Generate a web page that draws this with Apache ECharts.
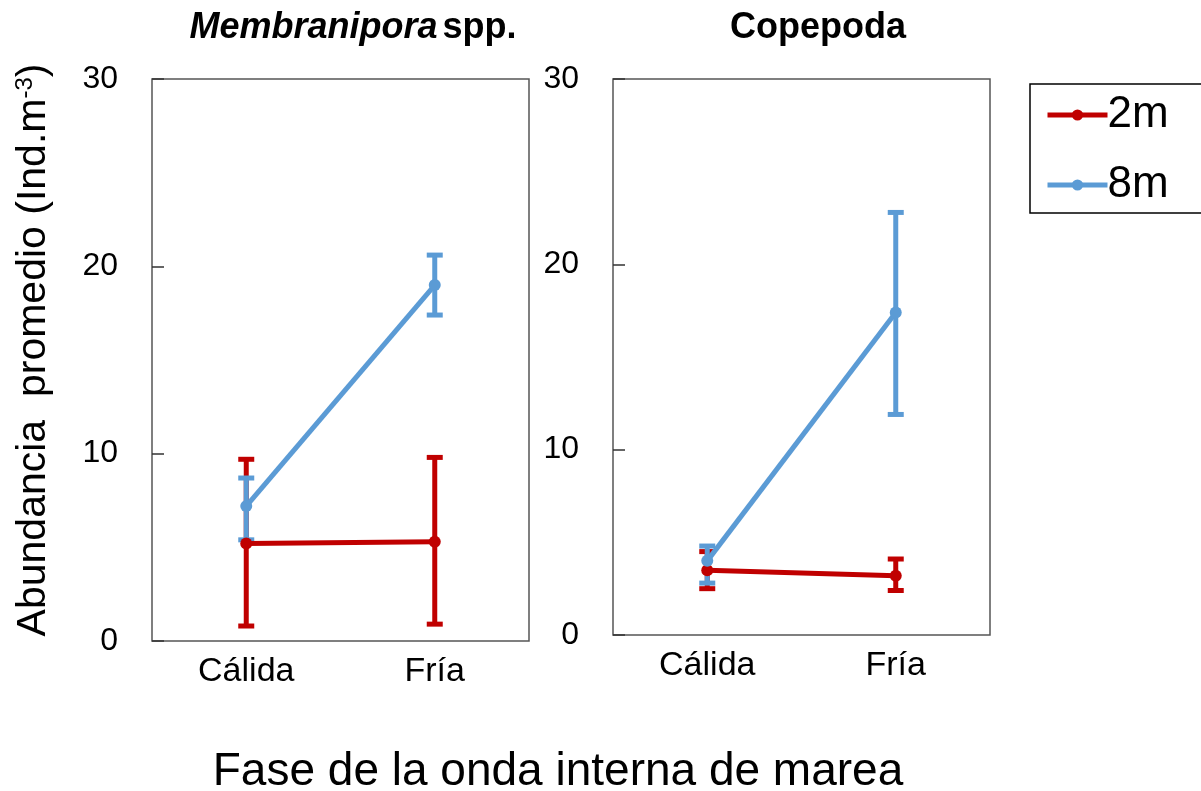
<!DOCTYPE html>
<html><head><meta charset="utf-8">
<script src="https://cdn.jsdelivr.net/npm/echarts@6/dist/echarts.min.js"></script>
<style>html,body{margin:0;padding:0;background:#fff}#c{width:1201px;height:791px}</style>
</head><body><div id="c"></div>
<script>
const categories = ['Cálida', 'Fría'];
const yTicks = [0, 10, 20, 30];
// Membranipora spp.
const memb2m = [5.2, 5.3];
const memb2mLow = [0.8, 0.9];
const memb2mHigh = [9.7, 9.8];
const memb8m = [7.2, 19.0];
const memb8mLow = [5.4, 17.4];
const memb8mHigh = [8.7, 20.6];
// Copepoda
const cope2m = [3.5, 3.2];
const cope2mLow = [2.5, 2.4];
const cope2mHigh = [4.5, 4.1];
const cope8m = [4.0, 17.4];
const cope8mLow = [2.8, 11.9];
const cope8mHigh = [4.8, 22.8];

const RED = '#C00000', BLUE = '#5B9BD5';
const FONT = '"Liberation Sans", Arial, sans-serif';

function errData(lo, hi) { return lo.map((l, i) => [i, l, hi[i]]); }
function errSeries(name, lo, hi, color, idx) {
  return {
    type: 'custom', name: name, xAxisIndex: idx, yAxisIndex: idx, z: 1,
    data: errData(lo, hi),
    renderItem: function (params, api) {
      const x = api.value(0);
      const p1 = api.coord([x, api.value(1)]);
      const p2 = api.coord([x, api.value(2)]);
      const w = 8;
      const st = { stroke: color, lineWidth: 5 };
      return { type: 'group', children: [
        { type: 'line', shape: { x1: p1[0], y1: p1[1], x2: p2[0], y2: p2[1] }, style: st },
        { type: 'line', shape: { x1: p1[0] - w, y1: p1[1], x2: p1[0] + w, y2: p1[1] }, style: st },
        { type: 'line', shape: { x1: p2[0] - w, y1: p2[1], x2: p2[0] + w, y2: p2[1] }, style: st }
      ]};
    }
  };
}
function lineSeries(name, data, color, idx) {
  return { type: 'line', name: name, xAxisIndex: idx, yAxisIndex: idx, data: data, z: 3,
    symbol: 'circle', symbolSize: 12, itemStyle: { color: color },
    lineStyle: { color: color, width: 5 } };
}
function xAx(idx) {
  return { type: 'category', gridIndex: idx, data: categories, boundaryGap: true,
    axisLine: { show: false }, axisTick: { show: false },
    axisLabel: { fontFamily: FONT, fontSize: 34, color: '#000', margin: 14 } };
}
function yAx(idx, withName) {
  const o = { type: 'value', gridIndex: idx, min: yTicks[0], max: yTicks[yTicks.length - 1], interval: 10,
    axisLine: { show: false }, splitLine: { show: false },
    axisTick: { show: true, inside: true, length: 12, lineStyle: { color: '#333', width: 1.5 } },
    axisLabel: { fontFamily: FONT, fontSize: 32, color: '#000', margin: 34 } };
  if (withName) {
    o.name = 'Abundancia  promedio (Ind.m{sup|-3})';
    o.nameLocation = 'middle';
    o.nameGap = 98;
    o.nameTextStyle = { fontFamily: FONT, fontSize: 41, color: '#000', padding: [0, 0, 0, 20],
      rich: { sup: { fontFamily: FONT, fontSize: 24, verticalAlign: 'top', lineHeight: 24, padding: [0, 0, 18, 0] } } };
  }
  return o;
}

const chart = echarts.init(document.getElementById('c'));
chart.setOption({
  animation: false,
  backgroundColor: '#fff',
  title: [
    { text: '{i|Membranipora} {b|spp.}', left: 348, top: 5, textAlign: 'center',
      textStyle: { rich: {
        i: { fontFamily: FONT, fontSize: 36, fontWeight: 'bold', fontStyle: 'italic', color: '#000' },
        b: { fontFamily: FONT, fontSize: 36, fontWeight: 'bold', color: '#000' } } } },
    { text: 'Copepoda', left: 813, top: 5, textAlign: 'center',
      textStyle: { fontFamily: FONT, fontSize: 36, fontWeight: 'bold', color: '#000' } },
    { text: 'Fase de la onda interna de marea', left: 553, top: 744, textAlign: 'center',
      textStyle: { fontFamily: FONT, fontSize: 46, fontWeight: 'normal', color: '#000' } }
  ],
  legend: {
    data: ['2m', '8m'], orient: 'vertical', left: 1030, top: 84,
    borderColor: '#000', borderWidth: 1.5, padding: [9, 40, 6, 15], itemGap: 26,
    itemWidth: 60, itemHeight: 14,
    lineStyle: { width: 5 },
    textStyle: { fontFamily: FONT, fontSize: 44, color: '#000', padding: [0, 0, 0, -5] }
  },
  grid: [
    { left: 152, top: 79, width: 377, height: 562, show: true, borderColor: '#555', borderWidth: 1.5, backgroundColor: 'transparent' },
    { left: 613, top: 79, width: 377, height: 556, show: true, borderColor: '#555', borderWidth: 1.5, backgroundColor: 'transparent' }
  ],
  xAxis: [xAx(0), xAx(1)],
  yAxis: [yAx(0, true), yAx(1, false)],
  series: [
    lineSeries('2m', memb2m, RED, 0),
    lineSeries('8m', memb8m, BLUE, 0),
    lineSeries('2m', cope2m, RED, 1),
    lineSeries('8m', cope8m, BLUE, 1),
    errSeries('err2m', memb2mLow, memb2mHigh, RED, 0),
    errSeries('err8m', memb8mLow, memb8mHigh, BLUE, 0),
    errSeries('err2m', cope2mLow, cope2mHigh, RED, 1),
    errSeries('err8m', cope8mLow, cope8mHigh, BLUE, 1)
  ]
});
</script></body></html>
